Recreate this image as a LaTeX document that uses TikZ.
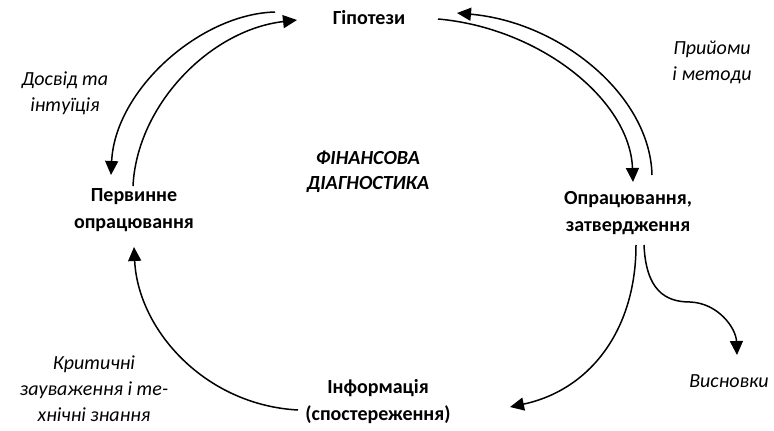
\documentclass[tikz,border=0pt]{standalone}
\usepackage{fontspec}
\setmainfont{Carlito}
\usetikzlibrary{arrows.meta}
\begin{document}
\begin{tikzpicture}[x=1pt,y=-1pt,
  stage/.style={font=\fontsize{20}{27}\selectfont\bfseries,align=center,inner sep=0pt},
  note/.style={font=\fontsize{20}{26}\selectfont\itshape,align=center,inner sep=0pt},
  title/.style={font=\fontsize{20}{25}\selectfont\bfseries\itshape,align=center,inner sep=0pt},
  flow/.style={line width=1.5pt,-{Triangle[length=14pt,width=13pt]}}]
\useasboundingbox (0,0) rectangle (774,431);

% stages of the cycle
\node[stage] (hyp)  at (369,18)  {Гіпотези};
\node[stage] (prim) at (134,210) {Первинне\\опрацювання};
\node[stage] (proc) at (628,213) {Опрацювання,\\затвердження};
\node[stage] (info) at (378,402) {Інформація\\(спостереження)};
\node[title] (core) at (368,172) {ФІНАНСОВА\\ДІАГНОСТИКА};

% annotations
\node[note] (meth) at (712,62)  {Прийоми\\і методи};
\node[note] (exp)  at (65,93)   {Досвід та\\інтуїція};
\node[note] (crit) at (94,389)  {Критичні\\зауваження і те-\\хнічні знання};
\node[note] (conc) at (729,381) {Висновки};

% end points of the arcs
\coordinate (hL1) at (275,12);  \coordinate (hL2) at (297,20);
\coordinate (hR1) at (457,13);  \coordinate (hR2) at (438,19);
\coordinate (pT1) at (111,175); \coordinate (pT2) at (133,186);
\coordinate (pB)  at (134,247);
\coordinate (qT1) at (633,182); \coordinate (qT2) at (652,175);
\coordinate (qB1) at (636,245); \coordinate (qB2) at (644,245);
\coordinate (iL)  at (298,410); \coordinate (iR)  at (510,407);
\coordinate (cT)  at (737,355);

% left pair: hypotheses <-> primary processing
\draw[flow] (hL1) .. controls (200,14) and (115,90) .. (pT1);
\draw[flow] (pT2) .. controls (137,105) and (210,30) .. (hL2);
% right pair: hypotheses <-> processing
\draw[flow] (hR2) .. controls (540,28) and (630,100) .. (qT1);
\draw[flow] (qT2) .. controls (650,95) and (560,22) .. (hR1);
% lower arcs
\draw[flow] (qB1) .. controls (636,330) and (590,390) .. (iR);
\draw[flow] (iL) .. controls (205,405) and (138,330) .. (pB);
% conclusions branch
\draw[flow] (qB2) .. controls (646,290) and (665,302) .. (690,302)
  .. controls (718,303) and (736,328) .. (cT);
\end{tikzpicture}
\end{document}
